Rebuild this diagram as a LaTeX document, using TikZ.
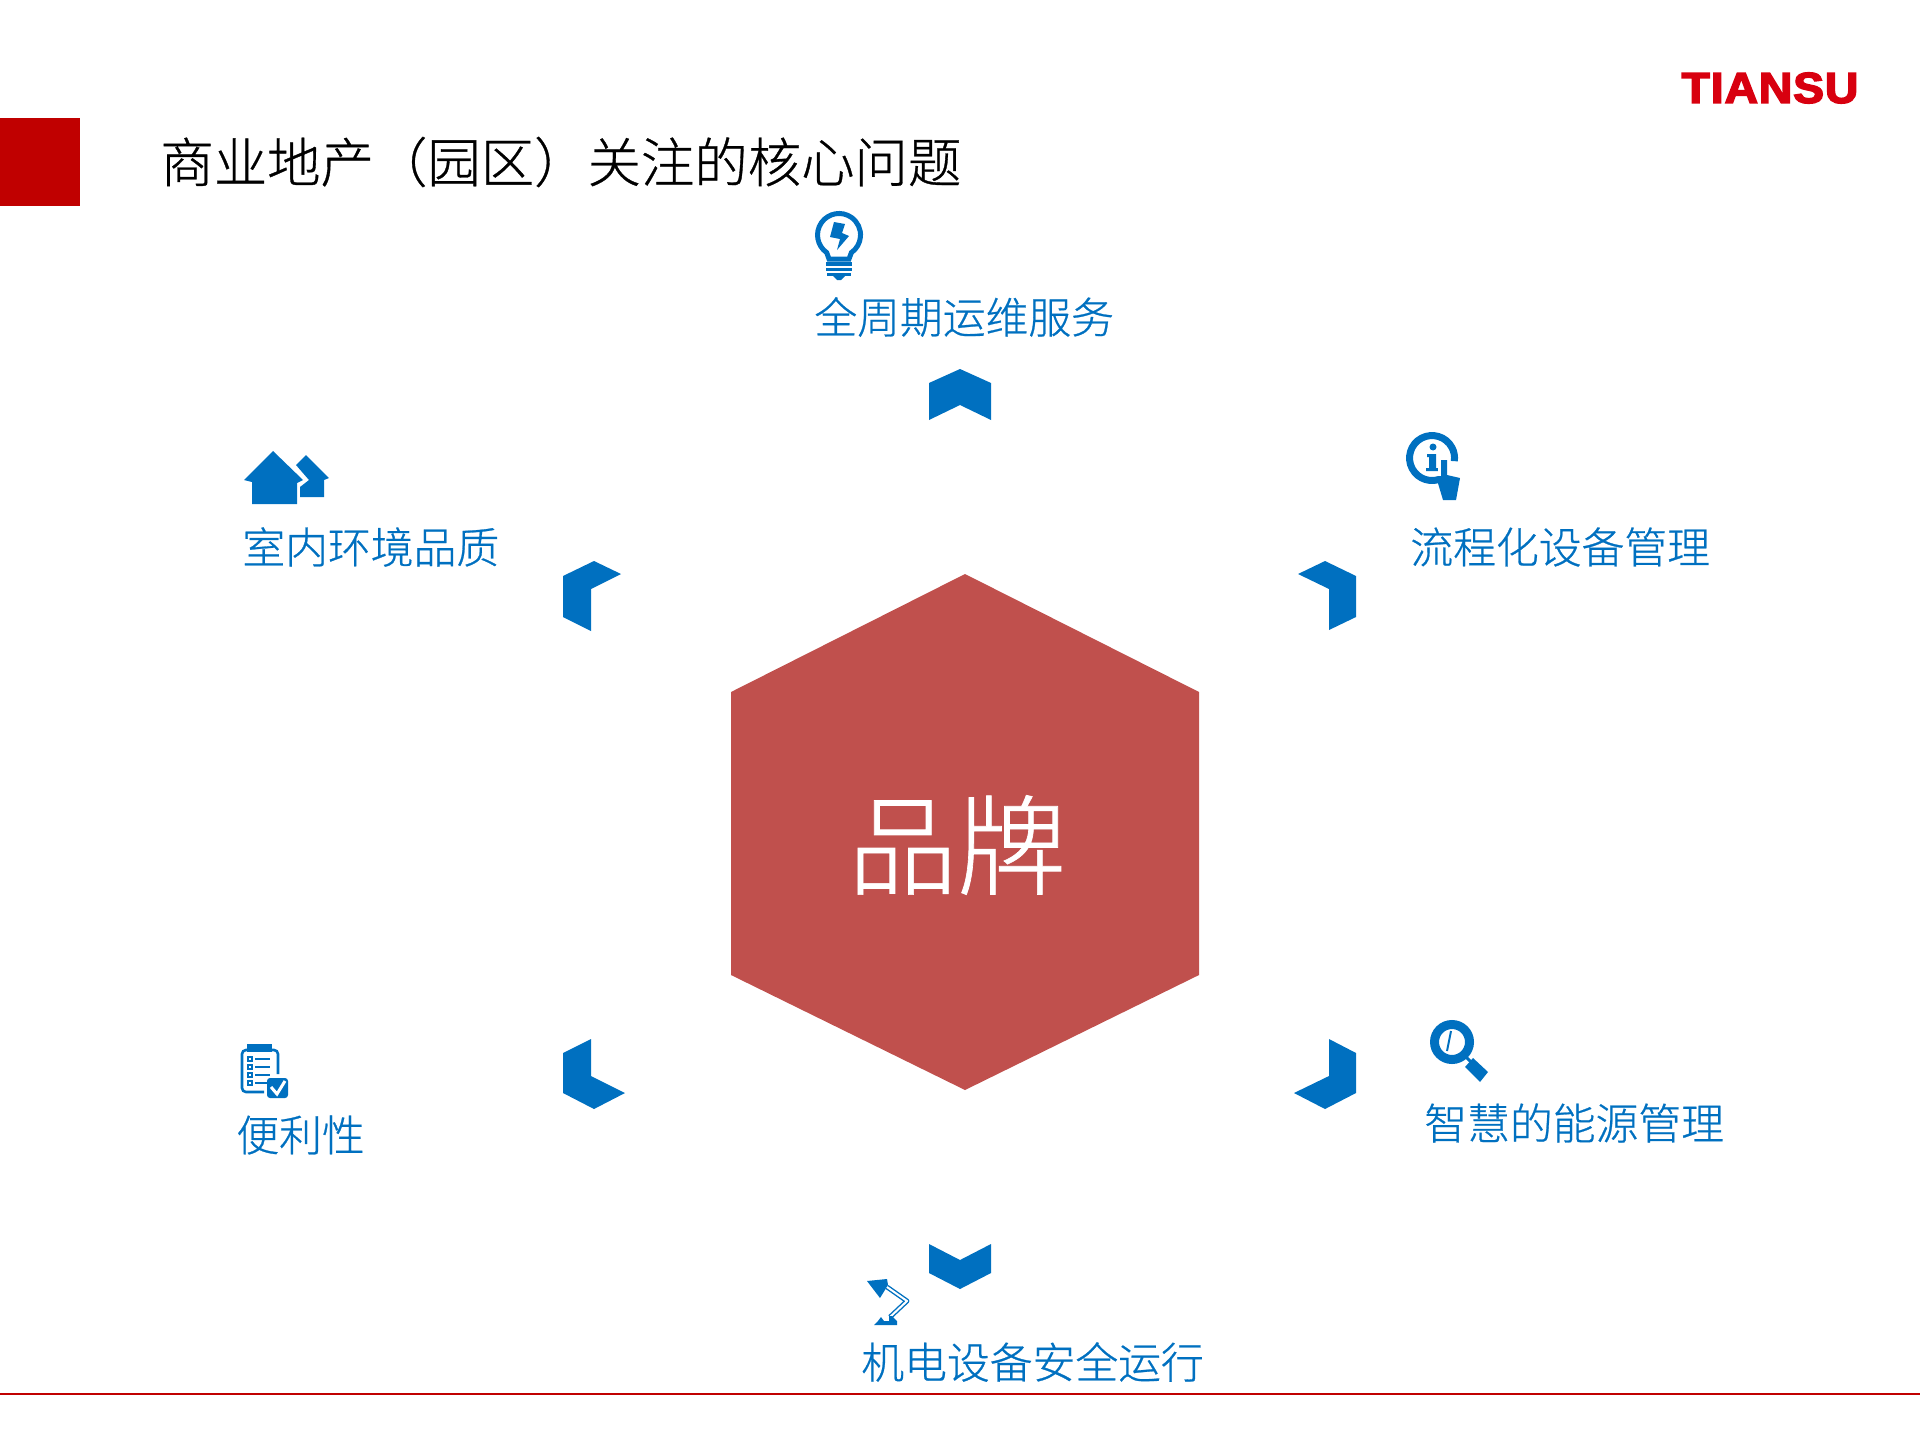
\documentclass[tikz,border=0pt]{standalone}
\usepackage{fontspec}
\newfontfamily\cjk[UprightFont={* Light},FakeBold=0.6]{Noto Sans CJK SC}
\newfontfamily\logofont[FakeBold=3.5,LetterSpace=2]{Liberation Sans}
\definecolor{iconblue}{HTML}{0070C0}
\definecolor{brandred}{HTML}{C0504D}
\definecolor{barred}{HTML}{C00000}
\definecolor{logored}{HTML}{D8000F}

\begin{document}
\begin{tikzpicture}[x=0.5pt,y=-0.5pt,
    label/.style={anchor=west,inner sep=0pt,text=iconblue,font=\cjk\fontsize{21.4pt}{24pt}\selectfont},
    chevron/.style={fill=iconblue},
    icon/.style={fill=iconblue},
    iconline/.style={draw=iconblue,line cap=butt}]
    \useasboundingbox (0,0) rectangle (1920,1440);
    %
    \fill[barred] (0,118) rectangle (80,206);
    \draw[barred,line width=1pt] (0,1394) -- (1920,1394);
    \node[anchor=west,inner sep=0pt,font=\cjk\fontsize{26.7pt}{30pt}\selectfont] (Title) at (160,162) {商业地产（园区）关注的核心问题};
    \node[inner sep=0pt,text=logored,font=\logofont\bfseries\fontsize{21.6pt}{24pt}\selectfont,xscale=1.07] (Logo) at (1770,88) {TIANSU};
    %
    \fill[brandred] (965,574) -- (1199,692) -- (1199,975) -- (965,1090) -- (731,975) -- (731,692) -- cycle;
    \node[text=white,inner sep=0pt,font=\cjk\fontsize{54.5pt}{60pt}\selectfont] (Brand) at (957,845) {品牌};
    %
    \node[label] (Service) at (814,317) {全周期运维服务};
    \node[label] (Process) at (1410,547) {流程化设备管理};
    \node[label] (Energy) at (1424,1123) {智慧的能源管理};
    \node[label] (Safety) at (861,1362) {机电设备安全运行};
    \node[label] (Ease) at (236,1135) {便利性};
    \node[label] (Indoor) at (242,547) {室内环境品质};
    %
    \fill[chevron] (929,383) -- (960,369) -- (991,383) -- (991,420) -- (960,405) -- (929,420) -- cycle;
    \fill[chevron] (1298,574) -- (1325,561) -- (1356,576) -- (1356,617) -- (1329,630) -- (1329,589) -- cycle;
    \fill[chevron] (1329,1039) -- (1356,1053) -- (1356,1093) -- (1325,1109) -- (1294,1093) -- (1329,1076) -- cycle;
    \fill[chevron] (929,1244) -- (960,1260) -- (991,1244) -- (991,1273) -- (960,1289) -- (929,1273) -- cycle;
    \fill[chevron] (591,1039) -- (563,1053) -- (563,1093) -- (594,1109) -- (625,1093) -- (591,1076) -- cycle;
    \fill[chevron] (563,576) -- (594,561) -- (621,574) -- (591,589) -- (591,631) -- (563,617) -- cycle;
    %
    % bulb
    \draw[iconline,line width=2.5pt] (826.7,252.6) arc[start angle=125,end angle=415,radius=21.5] -- (849,259) -- (829,259) -- cycle;
    \fill[icon] (834,222) -- (845,224) -- (842,233) -- (849,236) -- (837,250) -- (840,239) -- (830,237) -- cycle;
    \fill[icon] (826,262) rectangle (852,265.5);
    \fill[icon] (826,267.5) rectangle (852,271);
    \fill[icon] (827,273) rectangle (851,276);
    \fill[icon] (833,276) -- (845,276) -- (841,280) -- (837,280) -- cycle;
    %
    % info hand
    \draw[iconline,line width=3.5pt] (1442.6,477.9) arc[start angle=62,end angle=368,radius=22.5];
    \fill[icon] (1433,447) circle[radius=3.5];
    \fill[icon] (1427,454) -- (1436,454) -- (1436,468) -- (1439,468) -- (1439,471) -- (1426,471) -- (1426,468) -- (1429,468) -- (1429,457) -- (1427,457) -- cycle;
    \fill[white] (1438,457) rectangle (1450,476);
    \fill[icon] (1441,460) -- (1447,460) -- (1447,475) -- (1460,478) -- (1456,500) -- (1443,500) -- (1437,480) -- (1441,478) -- cycle;
    %
    % magnifier
    \draw[iconline,line width=4.5pt] (1452,1042) circle[radius=17.5];
    \draw[iconline,line width=1pt] (1451,1031) -- (1447,1051);
    \draw[iconline,line width=1.5pt] (1464,1055) -- (1471,1062);
    \fill[icon] (1473,1058) -- (1488,1072) -- (1480,1082) -- (1465,1067) -- cycle;
    %
    % lamp
    \fill[icon] (867,1281) -- (887,1279) -- (888,1285) -- (880,1298) -- cycle;
    \draw[iconline,line width=0.7pt,double=white,double distance=1pt,line join=round] (887,1287) -- (907,1301) -- (890,1317);
    \fill[icon] (874,1325) -- (878,1321) -- (881,1317) -- (884,1321) -- (889,1321) -- (889,1316) -- (892,1316) -- (897,1321) -- (897,1325) -- cycle;
    %
    % clipboard
    \draw[iconline,line width=1.3pt,rounded corners=2pt] (278,1074) -- (278,1050) -- (242,1050) -- (242,1092) -- (264,1092);
    \fill[icon] (247,1044) rectangle (272,1052);
    \foreach \y in {1059,1067,1075,1083} {
        \draw[iconline,line width=0.7pt] (248,\y-2) rectangle (252,\y+2);
        \draw[iconline,line width=0.7pt] (255,\y) -- (270,\y);
    }
    \fill[icon,rounded corners=1.5pt] (267,1078) rectangle (288,1098);
    \draw[white,line width=1.5pt] (271,1087) -- (277,1094) -- (285,1081);
    %
    % houses
    \fill[icon] (273,451) -- (303,480) -- (297,483) -- (297,504) -- (252,504) -- (252,482) -- (244,480) -- cycle;
    \fill[icon] (306,455) -- (329,478) -- (324,480) -- (324,497) -- (300,497) -- (300,487) -- (309,480) -- (296,465) -- cycle;
\end{tikzpicture}
\end{document}
